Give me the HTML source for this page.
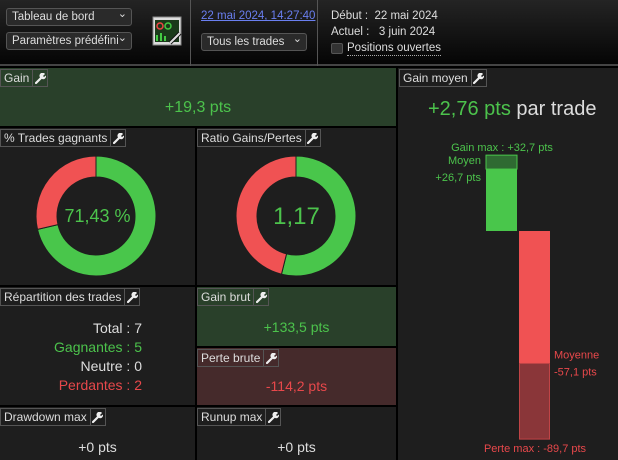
<!DOCTYPE html>
<html><head><meta charset="utf-8"><style>
*{box-sizing:border-box;margin:0;padding:0}
body{width:618px;height:460px;background:#000;font-family:"Liberation Sans",sans-serif;color:#ddd;position:relative;overflow:hidden;font-size:12px}
.abs{position:absolute}
#hdr{left:0;top:0;width:618px;height:66px;background:linear-gradient(#242424,#050505);border-bottom:2px solid #444}
.sel{position:absolute;height:18px;border:1px solid #555;border-radius:3px;background:#2a2a2a;color:#ddd;font-size:11.5px;line-height:16px;padding-left:5px;white-space:nowrap;overflow:hidden}
.sel:after{content:"⌄";position:absolute;right:4px;top:-3px;font-size:11px;background:#2a2a2a}
.vsep{position:absolute;top:0;width:1px;height:66px;background:#555}
.panel{position:absolute;background:#1e1e1e}
.tab{position:absolute;left:0;top:1px;height:18px;border:1px solid #555;background:#1e1e1e;color:#ddd;font-size:12px;line-height:16px;padding:0 3px;display:flex}
.tab span.w{border-left:1px solid #555;width:15px;margin-left:3px;margin-right:-3px;display:flex;align-items:center;justify-content:center}
.green{color:#4cc34c}.red{color:#e8484b}
.big{position:absolute;width:100%;text-align:center;font-size:16px}
</style></head><body>
<div id="hdr" class="abs">
 <div class="sel" style="left:6px;top:8px;width:126px">Tableau de bord</div>
 <div class="sel" style="left:6px;top:32px;width:126px">Paramètres prédéfinis</div>
 <svg class="abs" style="left:152px;top:15px" width="32" height="32">
  <rect x="1" y="2" width="28" height="28" fill="#ddd" stroke="#888"/><rect x="3" y="5" width="24" height="22" fill="#1a3a1a"/>
  <circle cx="8" cy="11" r="3" fill="none" stroke="#e44" stroke-width="1.5"/><circle cx="16" cy="11" r="3" fill="none" stroke="#4c4" stroke-width="1.5"/>
  <path d="M4 26V20h2v6h2v-8h2v8h2v-5h2v5" fill="#4c4"/><path d="M18 28l10-10" stroke="#111" stroke-width="4"/><path d="M18 28l10-10" stroke="#ddd" stroke-width="2"/>
 </svg>
 <div class="vsep" style="left:190px"></div>
 <div class="abs" style="left:201px;top:10px;color:#6a7ff0;text-decoration:underline;font-size:11.5px;white-space:nowrap">22 mai 2024, 14:27:40</div>
 <div class="sel" style="left:201px;top:33px;width:106px">Tous les trades</div>
 <div class="vsep" style="left:317px"></div>
 <div class="abs" style="left:331px;top:10px;font-size:11.5px">Début :&nbsp;&nbsp;22 mai 2024</div>
 <div class="abs" style="left:331px;top:26px;font-size:11.5px">Actuel :&nbsp;&nbsp;&nbsp;3 juin 2024</div>
 <div class="abs" style="left:331px;top:43px;width:12px;height:11px;border:1px solid #555;background:#333;border-radius:2px"></div>
 <div class="abs" style="left:347px;top:42px;font-size:11.5px;border-bottom:1px dotted #aaa;line-height:13px">Positions ouvertes</div>
</div>

<div class="panel" style="left:0;top:68px;width:396px;height:58px;background:#29402a">
 <div class="tab" style="background:#29402a">Gain<span class="w"></span></div>
 <div class="big green" style="top:31px">+19,3 pts</div>
</div>

<div class="panel" style="left:0;top:128px;width:195px;height:157px">
 <div class="tab">% Trades gagnants<span class="w"></span></div>
 <svg id="d1" class="abs" style="left:0;top:0" width="195" height="157"></svg>
 <div class="big green" style="top:78px;font-size:18px">71,43 %</div>
</div>
<div class="panel" style="left:197px;top:128px;width:199px;height:157px">
 <div class="tab">Ratio Gains/Pertes<span class="w"></span></div>
 <svg id="d2" class="abs" style="left:0;top:0" width="199" height="157"></svg>
 <div class="big green" style="top:75px;font-size:24px">1,17</div>
</div>

<div class="panel" style="left:0;top:287px;width:195px;height:118px">
 <div class="tab">Répartition des trades<span class="w"></span></div>
 <div class="abs" style="right:53px;top:32px;text-align:right;font-size:14px;line-height:19px">
  <div style="color:#ddd">Total : 7</div>
  <div class="green">Gagnantes : 5</div>
  <div style="color:#ddd">Neutre : 0</div>
  <div class="red">Perdantes : 2</div>
 </div>
</div>
<div class="panel" style="left:197px;top:287px;width:199px;height:59px;background:#29402a">
 <div class="tab" style="background:#29402a">Gain brut<span class="w"></span></div>
 <div class="big green" style="top:32px;font-size:14px">+133,5 pts</div>
</div>
<div class="panel" style="left:197px;top:348px;width:199px;height:57px;background:#452a2b">
 <div class="tab" style="background:#452a2b">Perte brute<span class="w"></span></div>
 <div class="big red" style="top:30px;font-size:14px">-114,2 pts</div>
</div>

<div class="panel" style="left:0;top:407px;width:195px;height:53px">
 <div class="tab">Drawdown max<span class="w"></span></div>
 <div class="big" style="top:32px;font-size:14px;color:#ddd">+0 pts</div>
</div>
<div class="panel" style="left:197px;top:407px;width:199px;height:53px">
 <div class="tab">Runup max<span class="w"></span></div>
 <div class="big" style="top:32px;font-size:14px;color:#ddd">+0 pts</div>
</div>

<div class="panel" style="left:398px;top:68px;width:220px;height:392px">
 <div class="tab" style="left:1px">Gain moyen<span class="w"></span></div>
 <div class="abs" style="left:30px;top:30px;font-size:20px;white-space:nowrap"><span class="green">+2,76 pts</span> <span style="color:#ddd">par trade</span></div>
 <svg id="bars" class="abs" style="left:0;top:0" width="220" height="392"></svg>
</div>

<script>
const winLossShares = [71.43, 28.57];
const grossValues = [133.5, 114.2];
const gainStats = [32.7, 26.7];   // max, avg
const lossStats = [89.7, 57.1];   // max, avg
const NS = "http://www.w3.org/2000/svg";
function mk(t, a, p){const e=document.createElementNS(NS,t);for(const k in a)e.setAttribute(k,a[k]);p.appendChild(e);return e;}
document.querySelectorAll('.tab span.w').forEach(s=>{
 
 
 s.innerHTML='<svg width="11" height="11" viewBox="0 0 11 11"><path d="M1 10L6 5" stroke="#eee" stroke-width="2.2" stroke-linecap="round"/><path d="M5 4.5a3 3 0 0 1 5-3.5l-2 2 1 1 2-1.5a3 3 0 0 1-4 3.5z" fill="#eee"/></svg>';
});
function arc(cx,cy,R,r,a0,a1){
 const P=(rad,a)=>[cx+rad*Math.sin(a),cy-rad*Math.cos(a)];
 const l=(a1-a0)>Math.PI?1:0;const[x0,y0]=P(R,a0),[x1,y1]=P(R,a1),[x2,y2]=P(r,a1),[x3,y3]=P(r,a0);
 return `M${x0} ${y0}A${R} ${R} 0 ${l} 1 ${x1} ${y1}L${x2} ${y2}A${r} ${r} 0 ${l} 0 ${x3} ${y3}Z`;}
function donut(svg,cx,cy,vals,name){
 const tot=vals.reduce((a,b)=>a+b,0);let a=0;const cols=["#49c64b","#f05253"];
 vals.forEach((v,i)=>{const a1=a+v/tot*2*Math.PI;
  const p=mk("path",{d:arc(cx,cy,60,39,a,a1),fill:cols[i],stroke:"#1e1e1e","stroke-width":1},svg);
  
  
  a=a1;});
}
donut(document.getElementById("d1"),96,88,winLossShares,"win-rate");
donut(document.getElementById("d2"),99,88,grossValues,"ratio");
const svg=document.getElementById("bars");
const zeroY=163, k=2.32, y=v=>zeroY - v*k;
const gx=88,rx=121,bw=31;
let e;
e=mk("rect",{x:gx,y:y(gainStats[0]),width:bw,height:y(gainStats[1])-y(gainStats[0]),fill:"#2f6a32",stroke:"#49c64b"},svg);


e=mk("rect",{x:gx,y:y(gainStats[1]),width:bw,height:zeroY-y(gainStats[1]),fill:"#49c64b"},svg);


e=mk("rect",{x:rx,y:zeroY,width:bw,height:y(-lossStats[1])-zeroY,fill:"#f05253"},svg);


e=mk("rect",{x:rx+0.5,y:y(-lossStats[1]),width:bw-1,height:y(-lossStats[0])-y(-lossStats[1]),fill:"#8a3639",stroke:"#c04446"},svg);


const fmt=v=>v.toFixed(1).replace(".",",");
function txt(x,yy,s,c,anc,name){const t=mk("text",{x:x,y:yy,fill:c,"font-size":11,"text-anchor":anc,"font-family":"Liberation Sans, sans-serif"},svg);t.textContent=s;
 
 }
txt(104,y(gainStats[0])-4,"Gain max : +"+fmt(gainStats[0])+" pts","#4cc34c","middle","gain-max-label");
txt(83,y(gainStats[0])+9,"Moyen","#4cc34c","end","gain-avg-title");
txt(83,y(gainStats[0])+26,"+"+fmt(gainStats[1])+" pts","#4cc34c","end","gain-avg-label");
txt(156,y(-lossStats[1])-5,"Moyenne","#e8484b","start","loss-avg-title");
txt(156,y(-lossStats[1])+12,"-"+fmt(lossStats[1])+" pts","#e8484b","start","loss-avg-label");
txt(137,y(-lossStats[0])+13,"Perte max : -"+fmt(lossStats[0])+" pts","#e8484b","middle","loss-max-label");
</script>
</body></html>
